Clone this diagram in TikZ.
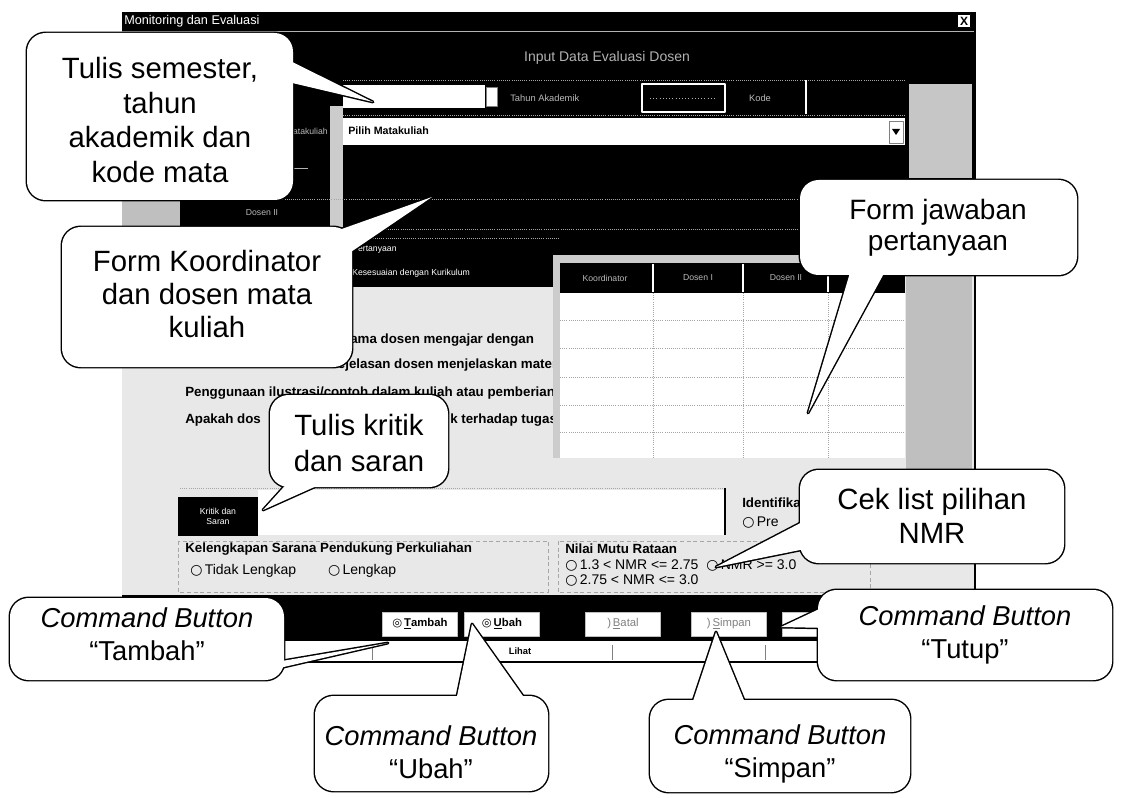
\documentclass[tikz,border=0pt]{standalone}
\usepackage{fontspec}
\setmainfont{Liberation Sans}
\newfontfamily\djv{DejaVu Sans}
\newcommand{\mycallout}[5]{%
  \draw[cobord] #1 rectangle #2;
  \draw[tailbord] #3 -- (#4) -- #5;
  \fill[white] #3 -- (#4) -- #5 -- cycle;
  \fill[cofill] #1 rectangle #2;}
\begin{document}
\begin{tikzpicture}[x=0.75pt,y=-0.75pt,line join=round,
  scr/.style={font=\fontsize{6.5}{7.5}\selectfont, text=gray!55, inner sep=0pt},
  scrw/.style={font=\fontsize{6.5}{7.5}\selectfont, text=white, inner sep=0pt, anchor=west},
  qtext/.style={font=\bfseries\fontsize{10}{12}\selectfont, anchor=west, inner sep=0pt},
  rtext/.style={font=\fontsize{10.5}{12}\selectfont, anchor=west, inner sep=0pt},
  gridl/.style={gray!70, densely dotted, line width=0.6pt},
  btn/.style={fill=white, draw=gray!50, inner sep=0pt, minimum width=56pt, minimum height=18pt, font=\fontsize{8.5}{9}\selectfont},
  cobord/.style={draw=black, line width=2.2pt, rounded corners=14pt},
  tailbord/.style={draw=black, line width=2.2pt},
  cofill/.style={fill=white, rounded corners=14pt},
  ctext/.style={align=center, inner sep=0pt, font=\fontsize{22}{26}\selectfont},
  cmdq/.style={align=center, inner sep=0pt, font=\fontsize{20.5}{24.5}\selectfont},
]
\useasboundingbox (0,0) rectangle (1127,798);
\fill[white] (0,0) rectangle (1127,798);

% ---------------- window: dark upper part ----------------
\fill[black] (122,12) rectangle (975,255);
\node[scrw, font=\fontsize{9.5}{10}\selectfont] (title) at (124,21) {Monitoring dan Evaluasi};
\node[draw=black, fill=white, minimum size=10pt, inner sep=0pt, font=\bfseries\fontsize{9}{9}\selectfont] (close) at (964,21) {X};
\draw[gray!60, line width=0.6pt] (122,31) -- (975,31);
\node[scr, font=\fontsize{10.5}{11}\selectfont, text=gray!60] (hdr) at (607,58) {Input Data Evaluasi Dosen};

% row 1
\draw[gridl] (343,80) -- (905,80);
\fill[white] (343,85) rectangle (485,108);
\draw[fill=white, draw=gray] (486,87) rectangle (497,106);
\node[scr, anchor=west, font=\fontsize{7}{8}\selectfont] (ta) at (510,98) {Tahun Akademik};
\draw[white, line width=1pt] (642,84) rectangle (725,112);
\draw[gray!60, dotted] (650,98) -- (717,98);
\node[scr, font=\fontsize{7}{8}\selectfont] (kode) at (760,98) {Kode};
\draw[white, line width=0.8pt] (806,80) -- (806,114);
\draw[gridl] (343,115) -- (905,115);
\fill[gray!45] (909,84) rectangle (972,178);

% row 2
\node[scr, anchor=east] (mk) at (328,131) {Matakuliah};
\fill[white] (343,118) rectangle (905,145);
\node[anchor=west, inner sep=0pt, font=\bfseries\fontsize{8}{9}\selectfont] (pilih) at (348,131) {Pilih Matakuliah};
\draw[fill=white, draw=gray] (889,121) rectangle (903,143);
\fill[black] (892,129) -- (900,129) -- (896,135) -- cycle;
\fill[gray!40] (330,106) rectangle (343,232);
\draw[gray!60] (293,168) -- (308,168);
\draw[gridl] (180,199) -- (905,199);
\draw[gridl] (343,229) -- (905,229);
\fill[gray!50] (122,201) rectangle (180,226);
\node[scr] (d2) at (262,213) {Dosen II};

% ---------------- body ----------------
\fill[gray!18] (122,255) rectangle (975,595);
\fill[black] (345,236) rectangle (560,287);
\draw[gridl] (345,238) -- (560,238);
\node[scrw] (pert) at (352,249) {Pertanyaan};
\node[scrw] (kes) at (352,273) {Kesesuaian dengan Kurikulum};

% question rows (overflow hidden by table)
\node[qtext] (q1) at (330,340) {Selama dosen mengajar dengan};
\node[qtext] (q2) at (328,365) {Kejelasan dosen menjelaskan materi kuliah};
\node[qtext] (q3) at (185,393) {Penggunaan ilustrasi/contoh dalam kuliah atau pemberian};
\node[qtext] (q4a) at (185,420) {Apakah dos};
\node[qtext] (q4b) at (450,420) {k terhadap tugas};

% answer table
\fill[gray!40] (553,255) rectangle (905,263);
\fill[black] (558,263) rectangle (905,293);
\foreach \x in {653,743,828} \draw[white, line width=0.8pt] (\x,264) -- (\x,292);
\node[scr] (hk) at (605,278) {Koordinator};
\node[scr] (hd1) at (698,278) {Dosen I};
\node[scr] (hd2) at (786,278) {Dosen II};
\fill[white] (555,293) rectangle (905,458);
\fill[gray!40] (553,263) rectangle (560,458);
\foreach \x in {653,743,828} \draw[gridl] (\x,293) -- (\x,458);
\foreach \y in {320,348,377,405,432} \draw[gridl] (560,\y) -- (905,\y);
\fill[gray!50] (906,263) rectangle (972,470);

% kritik dan saran
\draw[gridl] (180,488) -- (725,488);
\fill[white] (258,490) rectangle (725,535);
\draw[black, line width=0.8pt] (725,488) -- (725,535);
\fill[black] (178,497) rectangle (258,536);
\node[scrw, align=center, anchor=center] (ks) at (218,516) {Kritik dan\\Saran};

% option groups
\draw[gray!70, densely dashed] (178,541) rectangle (548,592);
\node[qtext] (kel) at (185,549) {Kelengkapan Sarana Pendukung Perkuliahan};
\node[rtext] (tl) at (190,571) {{\djv ○}\,Tidak Lengkap \quad\quad {\djv ○}\,Lengkap};
\draw[gray!70, densely dashed] (558,541) rectangle (870,592);
\node[qtext] (nmr) at (565,549) {Nilai Mutu Rataan};
\node[rtext] (n1) at (565,565) {{\djv ○}\,1.3 < NMR <= 2.75 \ {\djv ○}\,NMR >= 3.0};
\node[rtext] (n2) at (565,580) {{\djv ○}\,2.75 < NMR <= 3.0};
\node[qtext] (idf) at (742,503) {Identifikasi};
\node[rtext] (pre) at (742,523) {{\djv ○}\,Pre};

% button bar
\fill[black] (122,595) rectangle (975,641);
\node[btn] (bT) at (420,624) {{\djv ◎}\,\textbf{\underline{T}ambah}};
\node[btn] (bU) at (502,624) {{\djv ◎}\,\textbf{\underline{U}bah}};
\node[btn, text=gray] (bB) at (623,624) {)\,\underline{B}atal};
\node[btn, text=gray] (bS) at (729,624) {)\,\underline{S}impan};
\node[btn] (bX) at (820,624) {};
% status bar
\fill[white] (122,641) rectangle (975,662);
\draw[black, line width=0.8pt] (122,662) -- (975,662);
\foreach \x in {372,612,765} \draw[gray] (\x,645) -- (\x,660);
\node[inner sep=0pt, font=\bfseries\fontsize{7}{8}\selectfont] (lihat) at (520,651) {Lihat};
\draw[black, line width=1.2pt] (975,12) -- (975,662);

% ---------------- callouts ----------------
\coordinate (t1) at (373,102);
\coordinate (t2) at (432,197);
\coordinate (t3) at (808,413);
\coordinate (t4) at (263,510);
\coordinate (t5) at (716,567);
\coordinate (t6) at (388,643);
\coordinate (t7) at (472,624);
\coordinate (t8) at (716,632);
\coordinate (t9) at (781,627);

\mycallout{(27,33)}{(293,200)}{(268,50)}{t1}{(288,82)}
\node[ctext] (c1) at (160,120) {Tulis semester,\\tahun\\akademik dan\\kode mata};

\mycallout{(62,227)}{(352,367)}{(322,236)}{t2}{(345,256)}
\node[ctext, font=\fontsize{22}{25}\selectfont] (c2) at (207,294) {Form Koordinator\\dan dosen mata\\kuliah};

\mycallout{(800,180)}{(1077,275)}{(852,266)}{t3}{(888,266)}
\node[ctext, font=\fontsize{21}{23.5}\selectfont] (c3) at (938,228) {Form jawaban\\pertanyaan};

\mycallout{(270,395)}{(448,487)}{(292,478)}{t4}{(330,480)}
\node[ctext, font=\fontsize{22}{27.5}\selectfont] (c4) at (359,443) {Tulis kritik\\dan saran};

\mycallout{(800,470)}{(1064,563)}{(810,518)}{t5}{(810,548)}
\node[ctext, font=\fontsize{22}{25.5}\selectfont] (c5) at (932,516) {Cek list pilihan\\NMR};

\mycallout{(10,598)}{(284,680)}{(262,672)}{t6}{(276,662)}
\node[cmdq] (c6) at (147,634) {\textit{Command Button}\\“Tambah”};

\mycallout{(315,696)}{(548,791)}{(455,706)}{t7}{(530,706)}
\node[cmdq] (c7) at (431,752) {\textit{Command Button}\\“Ubah”};

\mycallout{(650,700)}{(910,792)}{(690,710)}{t8}{(748,710)}
\node[cmdq] (c8) at (780,754) {\textit{Command Button}\\“Simpan”};

\mycallout{(818,590)}{(1112,680)}{(830,604)}{t9}{(830,628)}
\node[cmdq] (c9) at (965,635) {\textit{Command Button}\\“Tutup”};
\end{tikzpicture}
\end{document}
